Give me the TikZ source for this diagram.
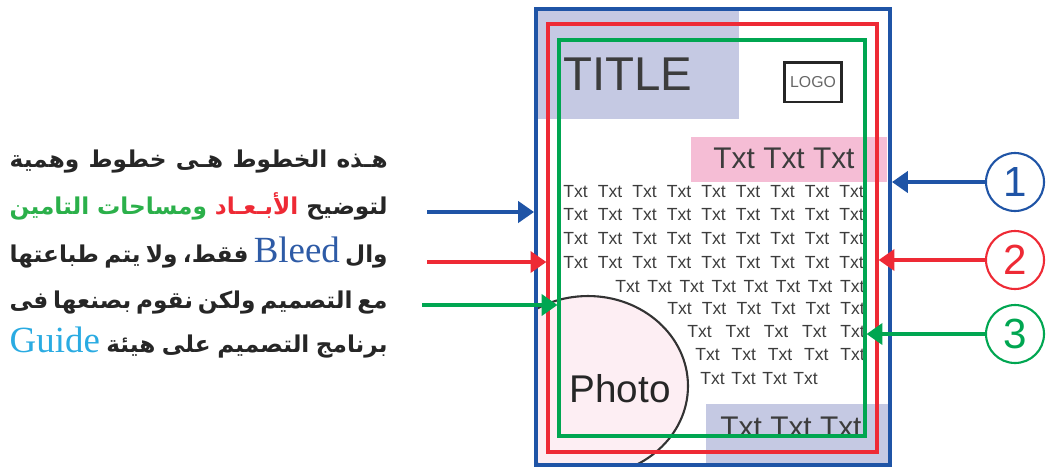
\documentclass[tikz,border=0pt]{standalone}
\usepackage{fontspec}
\setmainfont{Liberation Sans}
\newfontfamily\arabicfont[Script=Arabic]{DejaVu Sans}
\newfontfamily\latinserif{Liberation Serif}
\TeXXeTstate=1
\usetikzlibrary{arrows.meta,positioning,calc}
\definecolor{bleedblue}{HTML}{1F54A6}
\definecolor{trimred}{HTML}{EE2A35}
\definecolor{safegreen}{HTML}{00A651}
\definecolor{lavbg}{HTML}{C5C9E3}
\definecolor{pinkbg}{HTML}{F5BDD5}
\definecolor{photobg}{HTML}{FDEEF3}
\definecolor{txtgray}{HTML}{3C3C3C}
\definecolor{guidecyan}{HTML}{2AABE2}
\definecolor{bleedtxt}{HTML}{2E5BA6}
\definecolor{greentxt}{HTML}{2BB04A}
\tikzset{
  frame/.style={draw, rectangle, inner sep=0pt},
  txt/.style={inner sep=0pt, text=txtgray, font=\fontsize{10}{12}\selectfont},
  bigtxt/.style={inner sep=0pt, text=txtgray, font=\fontsize{17}{20}\selectfont},
  num/.style={draw, circle, minimum size=1.16cm, inner sep=0pt, line width=1.2pt, font=\fontsize{24}{28}\selectfont},
  arr/.style={-{Triangle[length=9pt, width=12pt]}, line width=2pt},
  arline/.style={anchor=base east, inner sep=0pt, text=black!85, font=\arabicfont\bfseries\fontsize{13.2}{16}\selectfont},
}
\newcommand{\arline}[1]{\hbox to 7.56cm{\spaceskip=.3em plus 3em minus .2em #1}}
\newcommand{\rtl}[1]{\beginR #1\endR}
\newcommand{\ltrword}[2]{{\latinserif\mdseries\fontsize{21}{24}\selectfont\color{#1}\beginL #2\endL}}
\begin{document}
\begin{tikzpicture}[x=0.02cm, y=-0.02cm]
\useasboundingbox (0,0) rectangle (1047,468);

% Backgrounds
\fill[lavbg] (536,9) rectangle (739,119);
\fill[pinkbg] (691,137) rectangle (887,182);
\fill[lavbg] (706,404) rectangle (890,465);

% Photo
\begin{scope}
  \clip (536,9) rectangle (890,465);
  \draw[line width=1.2pt, draw=black!80, fill=photobg] (588,386) ellipse [x radius=2cm, y radius=1.8cm];
\end{scope}

% Page texts
\node[inner sep=0pt, text=txtgray, font=\fontsize{27}{30}\selectfont] (title) at (628,74) {TITLE};
\node[draw=black!85, line width=1.7pt, minimum width=1.14cm, minimum height=0.8cm, inner sep=0pt,
  text=black!60, font=\fontsize{9}{10}\selectfont] (logo) at (813,82) {LOGO};
\node[bigtxt] (head) at (784,158) {Txt Txt Txt};
\foreach \yy/\n/\xx/\dx [count=\r] in {192/9/575.5/34.5, 215/9/575.5/34.5, 239/9/575.5/34.5,
    263/9/575.5/34.5, 287/8/627.5/32.1, 309/6/679.5/34.6, 332/5/699.5/38.25,
    355/5/707.5/36.25, 379/4/712.5/31}
  \foreach \i in {1,...,\n}
    \node[txt] (t\r-\i) at ({\xx+(\i-1)*\dx},\yy) {Txt};
\node[inner sep=0pt, text=black!85, font=\fontsize{22}{26}\selectfont] (photo) at (620,389) {Photo};
\node[bigtxt] (foot) at (791,427) {Txt Txt Txt};

% Frames
\node[frame, draw=bleedblue, line width=2.3pt, minimum width=7.08cm, minimum height=9.12cm] (bleed) at (713,237) {};
\node[frame, draw=trimred, line width=1.9pt, minimum width=6.58cm, minimum height=8.56cm] (trim) at (712.5,238) {};
\node[frame, draw=safegreen, line width=1.8pt, minimum width=6.12cm, minimum height=7.92cm] (safe) at (712,238) {};

% Numbers
\node[num, draw=bleedblue, text=bleedblue] (n1) at (1015,182) {1};
\node[num, draw=trimred, text=trimred] (n2) at (1015,260) {2};
\node[num, draw=safegreen, text=safegreen] (n3) at (1015,334) {3};

% Arabic note
\node[arline] (l1) at (388,167) {\arline{\rtl{هـذه الخطوط هـى خطوط وهمية}}};
\node[arline] (l2) at (388,214) {\arline{{\color{greentxt}\rtl{ومساحات التامين}} {\color{trimred}\rtl{الأبـعـاد}} \rtl{لتوضيح}}};
\node[arline] (l3) at (388,262) {\arline{\rtl{فقط، ولا يتم طباعتها} \ltrword{bleedtxt}{Bleed} \rtl{وال}}};
\node[arline] (l4) at (388,308) {\arline{\rtl{مع التصميم ولكن نقوم بصنعها فى}}};
\node[arline] (l5) at (388,352) {\arline{\ltrword{guidecyan}{Guide} \rtl{برنامج التصميم على هيئة}}};

\coordinate (a1) at (427,212);
\coordinate (a2) at (427,262);
\coordinate (a3) at (422,305);

% Arrows
\draw[arr, bleedblue] (a1) -- (a1 -| bleed.west);
\draw[arr, trimred] (a2) -- (a2 -| trim.west);
\draw[arr, safegreen] (a3) -- (a3 -| safe.west);
\draw[arr, bleedblue] (n1) -- (n1 -| bleed.east);
\draw[arr, trimred] (n2) -- (n2 -| trim.east);
\draw[arr, safegreen] (n3) -- (n3 -| safe.east);

\end{tikzpicture}
\end{document}
